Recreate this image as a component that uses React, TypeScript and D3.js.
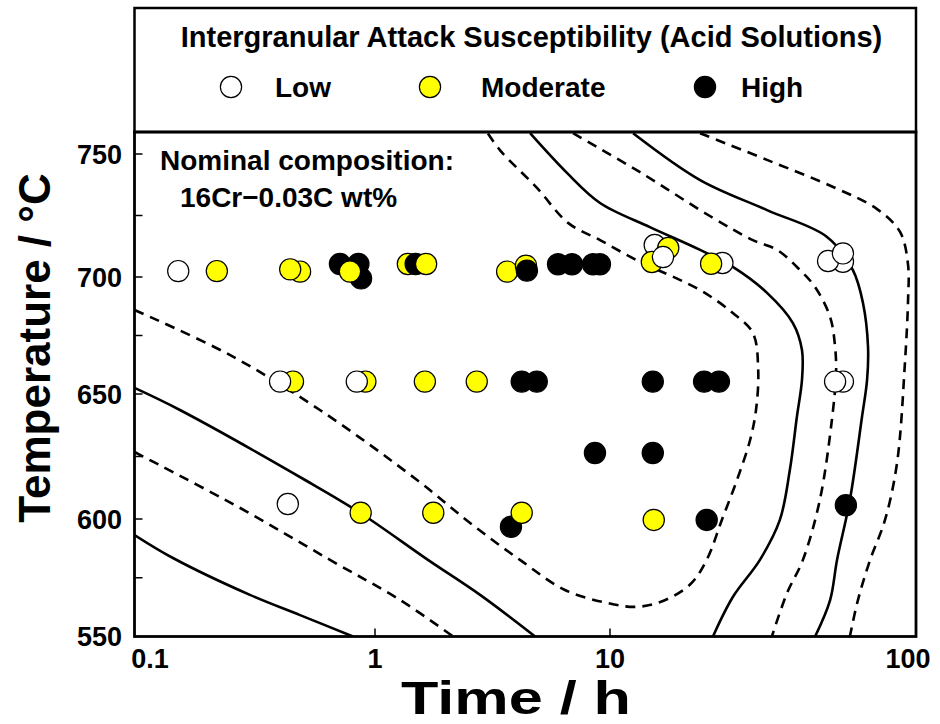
import React from "react";
import * as d3 from "d3";

// ---------- data ----------
const xTickValues = [0.1, 1, 10, 100];
const xTickLabels = ["0.1", "1", "10", "100"];
const yTickValues = [550, 600, 650, 700, 750];
const yMinorTicks = [575, 625, 675, 725];

const legendTitle = "Intergranular Attack Susceptibility (Acid Solutions)";
const levelNames = ["Low", "Moderate", "High"];

// [time h, temperature C, level] in drawing order
const samplePoints: [number, number, string][] = [
  [0.152, 702.4, "Low"],
  [0.22, 702.4, "Moderate"],
  [0.488, 702.2, "Moderate"],
  [0.444, 703.1, "Moderate"],
  [0.715, 705.3, "High"],
  [0.853, 705.3, "High"],
  [0.875, 699.4, "High"],
  [0.787, 702.2, "Moderate"],
  [1.38, 705.3, "Moderate"],
  [1.49, 705.3, "High"],
  [1.65, 705.3, "Moderate"],
  [3.65, 702.2, "Moderate"],
  [4.39, 704.6, "Moderate"],
  [4.43, 702.6, "High"],
  [6.01, 705.2, "High"],
  [6.89, 705.2, "High"],
  [8.47, 705.2, "High"],
  [9.06, 705.2, "High"],
  [14.0, 713.0, "Low"],
  [15.5, 711.8, "Moderate"],
  [13.7, 706.1, "Moderate"],
  [14.9, 708.1, "Low"],
  [23.3, 705.7, "Low"],
  [21.4, 705.4, "Moderate"],
  [57.7, 706.2, "Low"],
  [51.6, 706.5, "Low"],
  [57.7, 709.6, "Low"],
  [0.456, 655.3, "Moderate"],
  [0.403, 655.3, "Low"],
  [0.912, 655.3, "Moderate"],
  [0.84, 655.3, "Low"],
  [1.63, 655.3, "Moderate"],
  [2.71, 655.3, "Moderate"],
  [4.21, 655.3, "High"],
  [4.88, 655.3, "High"],
  [13.8, 655.3, "High"],
  [20.3, 655.3, "High"],
  [22.7, 655.3, "High"],
  [57.7, 655.3, "Low"],
  [54.4, 655.3, "Low"],
  [8.63, 626.4, "High"],
  [13.8, 626.4, "High"],
  [0.434, 606.0, "Low"],
  [0.872, 602.5, "Moderate"],
  [1.77, 602.5, "Moderate"],
  [3.79, 596.7, "High"],
  [4.21, 602.5, "Moderate"],
  [13.9, 599.6, "Moderate"],
  [20.7, 599.6, "High"],
  [59.0, 605.5, "High"],
];

// contour lines [time h, temperature C]
const contourC: [number, number][] = [[0.1, 593.2], [0.1445, 583.4], [0.302, 567.7], [0.488, 559.1], [0.81, 550]];
const contourB: [number, number][] = [[0.1, 626.8], [0.275, 604.4], [0.65, 582.6], [1.28, 565.5], [2.15, 550]];
const contourA: [number, number][] = [[0.1, 652.6], [0.1545, 643.6], [0.512, 615.6], [0.866, 602.5], [1.68, 582.6], [2.8, 567.7], [4.8, 550]];
const contourD: [number, number][] = [
  [0.1, 685.9], [0.249, 666.7], [0.59, 643.6], [1.51, 615.6], [2.54, 598.3], [4.14, 582.6], [6.43, 569.8],
  [9.71, 564.3], [12.1, 562.6], [14.6, 564.7], [18.2, 571.9], [20.7, 582.6], [23.2, 599.6], [26.0, 615.6],
  [28.7, 631.6], [30.0, 643.6], [30.5, 660.3], [29.3, 676.1], [25.2, 684.6], [19.7, 694.4], [12.2, 706.9],
  [9.07, 715.0], [6.63, 722.0], [4.89, 736.2], [3.4, 751.6], [3.0, 758.9],
];
const contourE: [number, number][] = [
  [4.57, 758.5], [6.56, 742.3], [9.07, 730.1], [13.5, 720.3], [19.7, 711.0], [25.2, 704.1], [32.6, 693.2],
  [39.6, 680.3], [42.4, 668.8], [42.4, 656.0], [40.8, 640.8], [38.7, 619.6], [35.9, 599.6], [30.9, 582.6],
  [25.2, 566.8], [21.7, 550],
];
const contourF: [number, number][] = [
  [6.96, 758.5], [12.5, 742.7], [21.2, 724.8], [29.3, 715.0], [35.2, 711.0], [41.8, 702.8], [46.8, 695.7],
  [52.4, 682.9], [54.4, 670.1], [54.8, 659.0], [53.1, 639.6], [48.5, 607.6], [42.7, 582.6], [37.9, 568.5],
  [33.8, 550],
];
const contourG: [number, number][] = [
  [11.9, 758.5], [19.7, 739.4], [32.6, 727.2], [51.2, 716.3], [62.2, 702.8], [67.1, 688.9], [69.7, 670.1],
  [69.2, 656.0], [66.6, 640.8], [60.8, 607.6], [55.2, 582.6], [52.4, 565.5], [46.8, 550],
];
const contourH: [number, number][] = [
  [19.7, 758.5], [32.6, 747.6], [53.6, 736.6], [74.6, 727.6], [88.7, 718.3], [94.2, 704.9], [94.2, 690.2],
  [92.0, 663.2], [86.7, 622.4], [79.2, 599.6], [70.8, 582.6], [64.6, 565.5], [60.8, 550],
];

const solidContours = [contourC, contourA, contourE, contourG];
const dashedContours = [contourB, contourD, contourF, contourH];

// ---------- layout ----------
const W = 940;
const H = 724;
const plotLeft = 134.5;
const plotRight = 916;
const plotTop = 132;
const plotBottom = 636.5;
const boxTop = 8;

const FONT = "'Liberation Sans', Arial, Helvetica, sans-serif";

const fillOf: Record<string, string> = { Low: "#ffffff", Moderate: "#ffff00", High: "#000000" };

export default function App() {
  const x = d3.scaleLog().domain([0.1, 1, 10, 100]).range([plotLeft, 375, 610, plotRight]);
  const y = d3.scaleLinear().domain([550, 600, 650, 700, 750, 759]).range([plotBottom, 519, 394, 277, 154, plotTop]);

  const line = d3
    .line<[number, number]>()
    .x((d) => x(d[0]))
    .y((d) => y(d[1]))
    .curve(d3.curveCatmullRom.alpha(0.5));

  const r = 10.6;
  const legendX = [231, 430, 705];
  const legendTextX = [275, 481, 741];

  return (
    <svg
      width={W}
      height={H}
      style={{ position: "absolute", left: 0, top: 0, background: "#fff" }}
      fontFamily={FONT}
      fontWeight="bold"
    >
      <rect x={0} y={0} width={W} height={H} fill="#fff" />
      <defs>
        <clipPath id="plotClip">
          <rect x={plotLeft} y={plotTop} width={plotRight - plotLeft} height={plotBottom - plotTop} />
        </clipPath>
      </defs>

      {/* legend box */}
      <rect x={plotLeft} y={boxTop} width={plotRight - plotLeft} height={plotTop - boxTop} fill="none" stroke="#000" strokeWidth={2.5} />
      <text x={531.5} y={47} fontSize={29} textAnchor="middle">{legendTitle}</text>
      {levelNames.map((n, i) => (
        <g key={n}>
          <circle cx={legendX[i]} cy={87} r={r} fill={fillOf[n]} stroke="#000" strokeWidth={1.2} />
          <text x={legendTextX[i]} y={97} fontSize={28}>{n}</text>
        </g>
      ))}

      {/* contours */}
      <g clipPath="url(#plotClip)" fill="none" stroke="#000" strokeWidth={2.6}>
        {solidContours.map((c, i) => (
          <path key={"s" + i} d={line(c) || ""} />
        ))}
        {dashedContours.map((c, i) => (
          <path key={"d" + i} d={line(c) || ""} strokeDasharray="10,7" />
        ))}
      </g>

      {/* points */}
      <g>
        {samplePoints.map((p, i) => (
          <circle key={i} cx={x(p[0])} cy={y(p[1])} r={r} fill={fillOf[p[2]]} stroke="#000" strokeWidth={1.2} />
        ))}
      </g>

      {/* annotation */}
      <text x={160} y={170} fontSize={28}>Nominal composition:</text>
      <text x={180} y={207} fontSize={28}>16Cr−0.03C wt%</text>

      {/* frame */}
      <rect x={plotLeft} y={plotTop} width={plotRight - plotLeft} height={plotBottom - plotTop} fill="none" stroke="#000" strokeWidth={2.8} />

      {/* y ticks */}
      {yTickValues.map((v) => (
        <g key={v}>
          {v > 550 && <line x1={plotLeft} x2={plotLeft + 8} y1={y(v)} y2={y(v)} stroke="#000" strokeWidth={1.5} />}
          <text x={122} y={y(v)} dy="0.36em" fontSize={27} textAnchor="end">{v}</text>
        </g>
      ))}
      {yMinorTicks.map((v) => (
        <line key={v} x1={plotLeft} x2={plotLeft + 8} y1={y(v)} y2={y(v)} stroke="#000" strokeWidth={1.5} />
      ))}

      {/* x ticks */}
      {xTickValues.map((v, i) => {
        const px = x(v);
        const shift = i === 0 ? 15.5 : i === xTickValues.length - 1 ? -8 : 0;
        return (
          <g key={v}>
            {i > 0 && i < xTickValues.length - 1 && (
              <line x1={px} x2={px} y1={plotBottom} y2={plotBottom - 8} stroke="#000" strokeWidth={1.5} />
            )}
            <text x={px + shift} y={668} fontSize={27} textAnchor="middle">{xTickLabels[i]}</text>
          </g>
        );
      })}

      {/* axis titles */}
      <text x={516} y={714} fontSize={46} textAnchor="middle" textLength={230} lengthAdjust="spacingAndGlyphs">Time / h</text>
      <text transform="translate(50,348) rotate(-90)" fontSize={44} textAnchor="middle">Temperature / °C</text>
    </svg>
  );
}
